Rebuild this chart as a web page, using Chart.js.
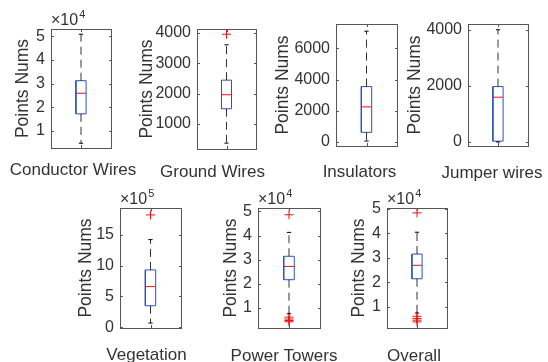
<!DOCTYPE html>
<html>
<head>
<meta charset="utf-8">
<script src="https://cdn.jsdelivr.net/npm/chart.js@4.4.0/dist/chart.umd.min.js"></script>
<style>
  html, body { margin: 0; padding: 0; background: #fff; overflow: hidden; }
  #wrap { position: relative; width: 548px; height: 362px; overflow: hidden; background: #fff; }
  #wrap canvas { position: absolute; }
</style>
</head>
<body>
<div id="wrap"></div>
<script>
// Box plot statistics per category
const categories   = ['Conductor Wires', 'Ground Wires', 'Insulators', 'Jumper wires', 'Vegetation', 'Power Towers', 'Overall'];
const whiskerLow   = [4800, 370, 60, 0, 70000, 7600, 7500];
const quartile1    = [17200, 1500, 620, 30, 350000, 21700, 21500];
const medians      = [25900, 1960, 2250, 1600, 660000, 27200, 27000];
const quartile3    = [31200, 2440, 3550, 1980, 930000, 31400, 31600];
const whiskerHigh  = [50800, 3600, 7100, 4010, 1420000, 41300, 40500];
const outliers     = [[], [3950], [], [], [1820000], [48600, 6200, 5400, 4800, 4300], [48400, 6200, 5300, 4600, 3900]];

// Axis ticks and limits
const yTicks = [
    [10000, 20000, 30000, 40000, 50000],
    [1000, 2000, 3000, 4000],
    [0, 2000, 4000, 6000],
    [0, 2000, 4000],
    [0, 500000, 1000000, 1500000],
    [10000, 20000, 30000, 40000, 50000],
    [10000, 20000, 30000, 40000, 50000]
];
const yExponent = [4, 0, 0, 0, 5, 4, 4];
const yMin = [2800, 178, -257, -143, -10000, 1700, 1400];
const yMax = [53000, 4120, 7560, 4215, 1932000, 51400, 50400];

// Layout of each subplot: axes box [left, top, width, height]
const axesBox = [
    [51, 29, 60, 119],
    [197, 29, 59, 120],
    [336, 24, 61, 122],
    [468, 24, 60, 122],
    [120, 208, 61, 120],
    [258, 208, 62, 120],
    [387, 208, 60, 120]
];
const yAxisWidth  = [38, 60, 63, 63, 44, 37, 38];
const labelShift  = [-8, -14, -7, -6, -4, -5, -3];
const labelPad    = [12, 13, 16, 17, 17, 18, 18];

const FONT = '"Liberation Sans", Arial, Helvetica, sans-serif';
const textColor = '#333333';
const frameColor = '#555555';
const boxColor = '#2c52c0';
const redColor = '#ee1111';

Chart.defaults.font.family = FONT;

const PAD_L = 20, PAD_R = 45, PAD_T = 30, X_H = 45;

// MATLAB-like frame with inward ticks and the x10^n multiplier
const framePlugin = {
    id: 'matlabFrame',
    afterDraw(chart, args, opts) {
        const { ctx, chartArea: a, scales } = chart;
        ctx.save();
        ctx.strokeStyle = frameColor;
        ctx.lineWidth = 1;
        ctx.strokeRect(a.left + 0.5, a.top + 0.5, a.right - a.left, a.bottom - a.top);
        ctx.beginPath();
        scales.y.ticks.forEach(t => {
            const yp = Math.round(scales.y.getPixelForValue(t.value)) + 0.5;
            ctx.moveTo(a.left, yp); ctx.lineTo(a.left + 3, yp);
            ctx.moveTo(a.right + 1, yp); ctx.lineTo(a.right - 2, yp);
        });
        const xp = Math.round(scales.x.getPixelForValue(1)) + 0.5;
        ctx.moveTo(xp, a.bottom); ctx.lineTo(xp, a.bottom - 3);
        ctx.moveTo(xp, a.top); ctx.lineTo(xp, a.top + 3);
        ctx.stroke();
        if (opts.exp) {
            ctx.fillStyle = textColor;
            ctx.textBaseline = 'alphabetic';
            ctx.font = '16px ' + FONT;
            ctx.fillText('\u00d710', a.left, a.top - 4);
            const w = ctx.measureText('\u00d710').width;
            ctx.font = '11px ' + FONT;
            ctx.fillText(String(opts.exp), a.left + w + 1, a.top - 11);
        }
        ctx.restore();
    }
};

function makeChart(i) {
    const [axL, axT, axW, axH] = axesBox[i];
    const L = yAxisWidth[i];
    const W = PAD_L + L + axW + PAD_R;
    const H = PAD_T + axH + X_H;
    const canvas = document.createElement('canvas');
    canvas.width = W; canvas.height = H;
    canvas.style.width = W + 'px'; canvas.style.height = H + 'px';
    canvas.style.left = (axL - L - PAD_L) + 'px';
    canvas.style.top = (axT - PAD_T) + 'px';
    document.getElementById('wrap').appendChild(canvas);

    const c = 1, hw = 0.17, cw = 0.07;
    const line = (data, color, dash) => ({
        data, showLine: true, borderColor: color, borderWidth: 1,
        borderDash: dash || [], pointRadius: 0, fill: false, tension: 0
    });
    const datasets = [
        line([{x: c, y: quartile3[i]}, {x: c, y: whiskerHigh[i]}], 'rgba(0,0,0,0.8)', [8, 5]),
        line([{x: c, y: quartile1[i]}, {x: c, y: whiskerLow[i]}], 'rgba(0,0,0,0.8)', [8, 5]),
        line([{x: c - cw, y: whiskerHigh[i]}, {x: c + cw, y: whiskerHigh[i]}], '#000'),
        line([{x: c - cw, y: whiskerLow[i]}, {x: c + cw, y: whiskerLow[i]}], '#000'),
        line([
            {x: c - hw, y: quartile1[i]}, {x: c + hw, y: quartile1[i]},
            {x: c + hw, y: quartile3[i]}, {x: c - hw, y: quartile3[i]},
            {x: c - hw, y: quartile1[i]}
        ], boxColor),
        line([{x: c - hw, y: medians[i]}, {x: c + hw, y: medians[i]}], redColor),
        {
            data: outliers[i].map(v => ({x: c, y: v})),
            showLine: false, pointStyle: 'cross', pointRadius: 4.5,
            borderColor: redColor, borderWidth: 1
        }
    ];

    const exp = yExponent[i];
    new Chart(canvas, {
        type: 'scatter',
        data: { datasets },
        options: {
            responsive: false,
            animation: false,
            devicePixelRatio: 1,
            layout: { padding: { left: PAD_L, right: PAD_R, top: PAD_T, bottom: 0 } },
            plugins: {
                legend: { display: false },
                tooltip: { enabled: false },
                matlabFrame: { exp }
            },
            scales: {
                x: {
                    type: 'linear', min: 0, max: 2,
                    grid: { display: false, drawTicks: false },
                    border: { display: false },
                    afterBuildTicks: s => { s.ticks = [{ value: 1 }]; },
                    afterFit: s => { s.height = X_H; s.paddingLeft = 0; s.paddingRight = 0; },
                    ticks: {
                        callback: () => categories[i],
                        font: { size: 17 }, color: textColor,
                        padding: labelPad[i], labelOffset: labelShift[i],
                        maxRotation: 0, minRotation: 0, autoSkip: false
                    }
                },
                y: {
                    type: 'linear', min: yMin[i], max: yMax[i],
                    grid: { display: false, drawTicks: false },
                    border: { display: false },
                    afterBuildTicks: s => { s.ticks = yTicks[i].map(v => ({ value: v })); },
                    afterFit: s => { s.width = L; s.paddingTop = 0; s.paddingBottom = 0; },
                    ticks: {
                        callback: v => String(Math.round(v / Math.pow(10, exp) * 100) / 100),
                        font: { size: 16 }, color: textColor, padding: 6, autoSkip: false
                    },
                    title: {
                        display: true, text: 'Points Nums',
                        font: { size: 17.5 }, color: textColor, padding: 0
                    }
                }
            }
        },
        plugins: [framePlugin]
    });
}

categories.forEach((_, i) => makeChart(i));
</script>
</body>
</html>
